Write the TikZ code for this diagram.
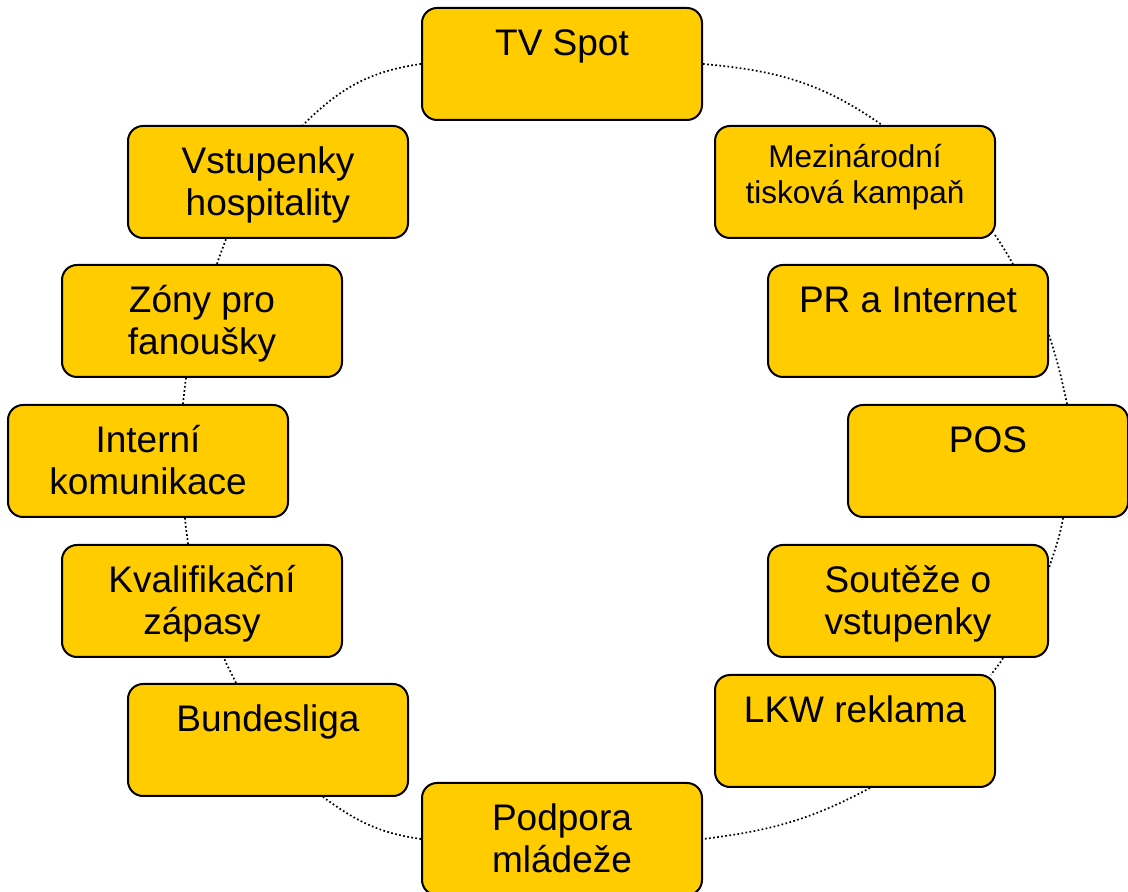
\documentclass[tikz,border=0pt]{standalone}
\usepackage{fontspec}
\setmainfont{Liberation Sans}
\usetikzlibrary{backgrounds}
\definecolor{boxyellow}{HTML}{FFCC00}
\newcommand\twol[2]{\begin{tabular}[t]{@{}c@{}}#1\\#2\end{tabular}}
\begin{document}
\begin{tikzpicture}[x=1pt,y=1pt,
  box/.style={draw=black, line width=2pt, fill=boxyellow, rounded corners=15pt,
    minimum width=280pt, minimum height=112pt, inner sep=0pt},
  lbl/.style={anchor=base, inner sep=0pt, font=\fontsize{37}{42}\selectfont},
  lblsmall/.style={anchor=base, inner sep=0pt, font=\fontsize{31.5}{36}\selectfont},
  conn/.style={line width=1.7pt, dash pattern=on 1.7pt off 2.4pt, black}]
\useasboundingbox (0,0) rectangle (1128,892);
% boxes (centres; y measured upward)
\node[box] (tv)  at (562,828) {};
\node[box] (mez) at (855,710) {};
\node[box] (pr)  at (908,571) {};
\node[box] (pos) at (988,431) {};
\node[box] (sou) at (908,291) {};
\node[box] (lkw) at (855,161) {};
\node[box] (pod) at (562,53) {};
\node[box] (bun) at (268,152) {};
\node[box] (kva) at (202,291) {};
\node[box] (int) at (148,431) {};
\node[box] (zon) at (202,571) {};
\node[box] (vst) at (268,710) {};
% labels
\node[lbl] (tvt) at ([yshift=-49pt]tv.north) {TV Spot};
\node[lblsmall] (mezt) at ([yshift=-43pt]mez.north) {\twol{Mezinárodní}{tisková kampaň}};
\node[lbl] (prt) at ([yshift=-49pt]pr.north) {PR a Internet};
\node[lbl] (post) at ([yshift=-49pt]pos.north) {POS};
\node[lbl] (sout) at ([yshift=-49pt]sou.north) {\twol{Soutěže o}{vstupenky}};
\node[lbl] (lkwt) at ([yshift=-49pt]lkw.north) {LKW reklama};
\node[lbl] (podt) at ([yshift=-49pt]pod.north) {\twol{Podpora}{mládeže}};
\node[lbl] (bunt) at ([yshift=-49pt]bun.north) {Bundesliga};
\node[lbl] (kvat) at ([yshift=-49pt]kva.north) {\twol{Kvalifikační}{zápasy}};
\node[lbl] (intt) at ([yshift=-49pt]int.north) {\twol{Interní}{komunikace}};
\node[lbl] (zont) at ([yshift=-49pt]zon.north) {\twol{Zóny pro}{fanoušky}};
\node[lbl] (vstt) at ([yshift=-49pt]vst.north) {\twol{Vstupenky}{hospitality}};
% dotted cycle connectors
\begin{pgfonlayer}{background}
\draw[conn] (tv.east) to[out=-5,in=145] ([xshift=27pt]mez.north);
\draw[conn] ([xshift=-1pt,yshift=4pt]mez.south east) to[out=-56,in=120] ([xshift=105pt]pr.north);
\draw[conn] ([yshift=-14pt]pr.east) to[out=-72,in=102] ([xshift=79pt]pos.north);
\draw[conn] ([xshift=75pt]pos.south) to[out=-100,in=72] ([yshift=33pt]sou.east);
\draw[conn] ([xshift=95pt]sou.south) to[out=-118,in=58] ([xshift=136pt,yshift=-1pt]lkw.north);
\draw[conn] ([xshift=15pt]lkw.south) to[out=208,in=7] (pod.east);
\draw[conn] (pod.west) to[out=172,in=-36] ([xshift=55pt]bun.south);
\draw[conn] ([xshift=-32pt]bun.north) to[out=114,in=-68] ([xshift=22pt]kva.south);
\draw[conn] ([xshift=-14pt]kva.north) to[out=96,in=-86] ([xshift=37pt]int.south);
\draw[conn] ([xshift=35pt]int.north) to[out=84,in=-98] ([xshift=-16pt]zon.south);
\draw[conn] ([xshift=15pt]zon.north) to[out=72,in=-110] ([xshift=-42pt]vst.south);
\draw[conn] (tv.west) to[out=188,in=45] ([xshift=35pt]vst.north);
\end{pgfonlayer}
\end{tikzpicture}
\end{document}
